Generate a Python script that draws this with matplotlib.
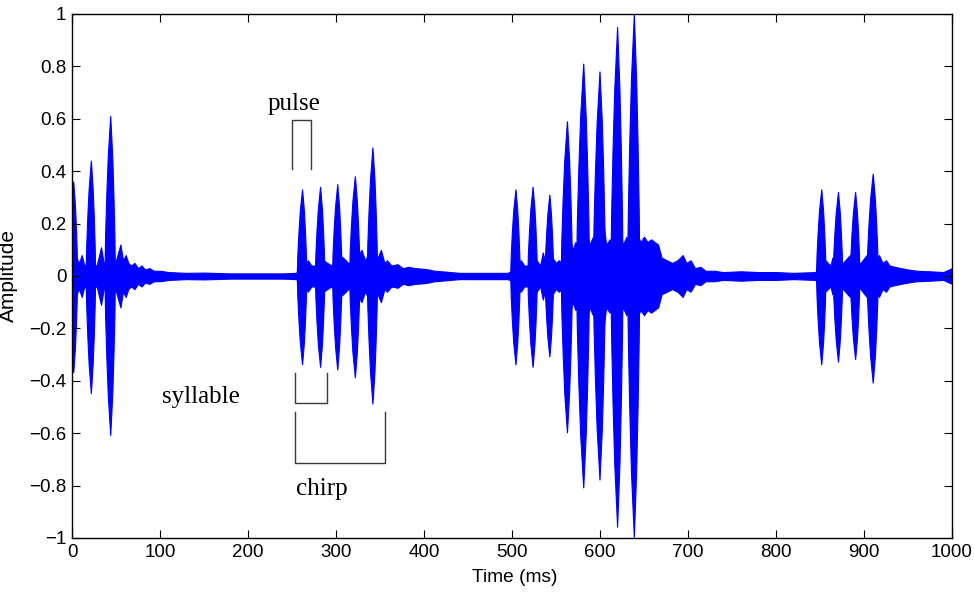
import numpy as np
import matplotlib
matplotlib.use('Agg')
import matplotlib.pyplot as plt
from matplotlib.ticker import FuncFormatter, MultipleLocator

# pulse peaks: time (ms), positive peak, negative peak, base width (ms)
pulse_t = [2, 22, 44, 262, 282.5, 302, 322, 342,
           504.5, 524, 543, 563, 581.5, 600, 620, 639,
           852, 871, 890.5, 910.5]
pulse_hi = [0.36, 0.44, 0.61, 0.33, 0.34, 0.35, 0.38, 0.49,
            0.33, 0.34, 0.31, 0.59, 0.81, 0.78, 0.95, 1.0,
            0.33, 0.32, 0.32, 0.39]
pulse_lo = [-0.37, -0.45, -0.61, -0.34, -0.35, -0.36, -0.39, -0.49,
            -0.34, -0.35, -0.31, -0.60, -0.81, -0.78, -0.96, -1.0,
            -0.34, -0.33, -0.32, -0.41]
pulse_w = [10, 11, 12, 11, 11, 11, 12, 12,
           11, 11, 10, 13, 15, 14, 14, 14,
           11, 11, 11, 13]

# background envelope (ringing between pulses + noise floor)
noise_t = [0, 5, 8, 11, 14, 18, 28, 33, 36, 40, 50, 55, 58, 61, 64, 67, 71, 75, 79, 83,
           88, 93, 100, 110, 130, 150, 180, 210, 240, 255, 258, 266, 268, 272, 278, 286,
           290, 295, 304, 308, 314, 318, 324, 329, 333, 336, 340, 346, 351, 355, 358, 363,
           370, 376, 382, 390, 398, 405, 412, 420, 440, 470, 495, 500, 504, 510, 514, 520,
           528, 532, 535, 538, 546, 550, 553, 557, 560, 562, 566, 569, 572, 576, 579, 585,
           588, 592, 596, 600, 604, 607, 611, 615, 618, 622, 626, 630, 634, 638, 642, 646,
           650, 654, 658, 662, 666, 670, 676, 682, 688, 694, 698, 703, 708, 714, 720, 730,
           740, 760, 780, 800, 820, 845, 848, 856, 862, 864, 868, 876, 884, 888, 896, 903,
           907, 914, 917, 921, 925, 929, 935, 942, 950, 960, 975, 990, 1000]
noise_amp = [0.12, 0.07, 0.05, 0.08, 0.04, 0.05, 0.04, 0.11, 0.05, 0.06, 0.06, 0.12, 0.06,
             0.08, 0.05, 0.04, 0.05, 0.03, 0.04, 0.025, 0.03, 0.02, 0.02, 0.015, 0.012,
             0.013, 0.010, 0.010, 0.010, 0.012, 0.04, 0.05, 0.06, 0.04, 0.04, 0.06, 0.05,
             0.04, 0.08, 0.07, 0.05, 0.05, 0.07, 0.10, 0.06, 0.08, 0.06, 0.06, 0.10, 0.05,
             0.06, 0.04, 0.045, 0.03, 0.035, 0.03, 0.028, 0.025, 0.02, 0.018, 0.012, 0.012,
             0.012, 0.02, 0.05, 0.06, 0.04, 0.04, 0.06, 0.04, 0.09, 0.05, 0.07, 0.05, 0.06,
             0.05, 0.05, 0.08, 0.14, 0.10, 0.13, 0.11, 0.14, 0.17, 0.12, 0.15, 0.11, 0.14,
             0.20, 0.12, 0.14, 0.11, 0.15, 0.17, 0.12, 0.15, 0.12, 0.14, 0.16, 0.13, 0.15,
             0.13, 0.14, 0.13, 0.12, 0.07, 0.06, 0.05, 0.06, 0.08, 0.05, 0.06, 0.03, 0.035,
             0.02, 0.02, 0.015, 0.018, 0.015, 0.015, 0.012, 0.015, 0.05, 0.06, 0.04, 0.07,
             0.05, 0.05, 0.08, 0.05, 0.05, 0.08, 0.06, 0.06, 0.08, 0.05, 0.06, 0.04, 0.035,
             0.03, 0.025, 0.02, 0.018, 0.015, 0.03]

blue = (0, 0, 1)
sans = 'Liberation Sans'

fig = plt.figure(figsize=(9.74, 5.92), dpi=100)
ax = fig.add_axes([72 / 974, 54 / 592, 880 / 974, 524 / 592])

# noise floor
nt = np.array(noise_t)
na = np.array(noise_amp)
ax.fill_between(nt, -na, na, color=blue, lw=0.8, edgecolor=blue)

# spindle profile of a single pulse (fraction of peak height, fraction of half-width)
h = np.array([0, 0.25, 0.5, 0.75, 1.0])
w = np.array([1.0, 0.88, 0.68, 0.42, 0.0])
for t0, hi, lo, bw in zip(pulse_t, pulse_hi, pulse_lo, pulse_w):
    rise, fall = 0.55 * bw, 0.45 * bw
    ux = np.concatenate([t0 - rise * w, t0 + fall * w[::-1][1:]])
    uy = np.concatenate([hi * h, hi * h[::-1][1:]])
    ax.fill(ux, uy, color=blue, lw=0.8)
    ax.fill(ux, uy / hi * lo, color=blue, lw=0.8)

# annotation brackets
br = dict(color='#3a3a3a', lw=1.0)
ax.plot([250.5, 250.5, 271.5, 271.5], [0.407, 0.595, 0.595, 0.407], **br)
ax.plot([253.5, 253.5, 290, 290], [-0.371, -0.484, -0.484, -0.371], **br)
ax.plot([253.5, 253.5, 356, 356], [-0.52, -0.715, -0.715, -0.52], **br)
serif = dict(family='Liberation Serif', fontsize=18, color='black')
ax.text(252, 0.634, 'pulse', ha='center', va='baseline', **serif)
ax.text(147, -0.484, 'syllable', ha='center', va='baseline', **serif)
ax.text(254, -0.836, 'chirp', ha='left', va='baseline', **serif)

ax.set_xlim(0, 1000)
ax.set_ylim(-1, 1)
ax.xaxis.set_major_locator(MultipleLocator(100))
ax.yaxis.set_major_locator(MultipleLocator(0.2))
fmt = FuncFormatter(lambda v, p: f'{round(v, 2):g}'.replace('-', '\u2212'))
ax.xaxis.set_major_formatter(fmt)
ax.yaxis.set_major_formatter(fmt)
ax.tick_params(direction='in', length=6, width=0.8, top=True, right=True,
               labelsize=13.5, pad=4)
for lab in ax.get_xticklabels() + ax.get_yticklabels():
    lab.set_family(sans)
for sp in ax.spines.values():
    sp.set_linewidth(1.0)

ax.set_xlabel('Time (ms)', fontsize=13.8, family=sans)
ax.set_ylabel('Amplitude', fontsize=15, family=sans)
ax.xaxis.set_label_coords(0.503, -0.06)
ax.yaxis.set_label_coords(-0.061, 0.5)

fig.savefig('out.png', dpi=100)
